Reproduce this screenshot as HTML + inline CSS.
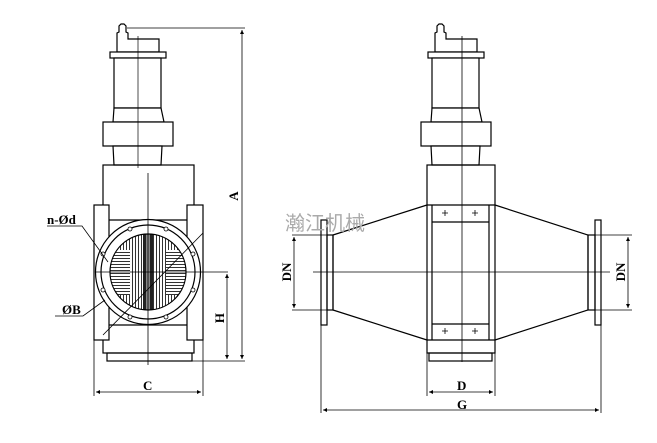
<!DOCTYPE html>
<html><head><meta charset="utf-8"><style>html,body{margin:0;padding:0;background:#fff}svg{display:block}</style></head>
<body>
<svg width="657" height="443" viewBox="0 0 657 443" xmlns="http://www.w3.org/2000/svg" font-family="Liberation Serif, serif">
<defs>
<g id="act" fill="#fff" stroke="#000" stroke-width="1.2">
  <path d="M117 52 V33 L119 32 V26 L121 24 H124 L126 26 V32 L128 33 V39 H159 V52 Z"/>
  <rect x="110" y="52" width="56" height="6"/>
  <rect x="114" y="58" width="47" height="50"/>
  <path d="M114 108 L113 122 H164 L161 108 Z"/>
  <rect x="103" y="122" width="70" height="24"/>
  <path d="M113 146 L114 165 H161 L162 146 Z"/>
</g>
<clipPath id="cc"><circle cx="148" cy="272" r="38"/></clipPath>
<pattern id="vs" width="3" height="3" patternUnits="userSpaceOnUse"><rect width="3" height="3" fill="#fff"/><rect width="1" height="3" fill="#333"/></pattern>
<pattern id="hs" width="3" height="3" patternUnits="userSpaceOnUse"><rect width="3" height="3" fill="#fff"/><rect width="3" height="1" fill="#333"/></pattern>
<marker id="ar" viewBox="0 0 10 10" refX="10" refY="5" markerWidth="7" markerHeight="5" orient="auto-start-reverse"><path d="M0 0 L10 5 L0 10 Z" fill="#000"/></marker>
</defs>

<!-- LEFT VIEW -->
<use href="#act"/>
<line x1="138" y1="36" x2="138" y2="168" stroke="#000" stroke-width="0.7"/>
<g fill="none" stroke="#000" stroke-width="1.2">
  <rect x="103" y="165" width="91" height="188"/>
  <rect x="94" y="205" width="15" height="135" fill="#fff"/>
  <rect x="187" y="205" width="16" height="135" fill="#fff"/>
  <line x1="109" y1="220" x2="187" y2="220"/>
  <line x1="109" y1="325" x2="187" y2="325"/>
  <rect x="107" y="353" width="85" height="8"/>
  <circle cx="148" cy="272" r="52.5" fill="#fff"/>
  <circle cx="148" cy="272" r="47"/>
</g>
<g clip-path="url(#cc)">
  <rect x="108" y="232" width="80" height="80" fill="url(#vs)"/>
  <rect x="108" y="250" width="22" height="45" fill="url(#hs)"/>
  <rect x="166" y="250" width="22" height="45" fill="url(#hs)"/>
  <rect x="143" y="232" width="10" height="80" fill="#222"/>
  <rect x="146" y="232" width="4" height="80" fill="#888"/>
</g>
<circle cx="148" cy="272" r="38" fill="none" stroke="#000" stroke-width="1.2"/>
<g fill="#fff" stroke="#000" stroke-width="0.8">
  <circle cx="130" cy="229" r="2"/><circle cx="166" cy="229" r="2"/>
  <circle cx="193" cy="254" r="2"/><circle cx="193" cy="290" r="2"/>
  <circle cx="166" cy="317" r="2"/><circle cx="130" cy="317" r="2"/>
  <circle cx="103" cy="290" r="2"/><circle cx="103" cy="254" r="2"/>
</g>
<g stroke="#000" stroke-width="0.8" fill="none">
  <line x1="148" y1="173" x2="148" y2="365"/>
  <line x1="95" y1="272" x2="228" y2="272"/>
  <line x1="103" y1="335" x2="203" y2="233"/>
  <polyline points="47,226 82,226 108,262"/>
  <polyline points="55,316 83,316 105,300"/>
  <line x1="127" y1="28" x2="245" y2="28"/>
  <line x1="192" y1="361" x2="245" y2="361"/>
  <line x1="242" y1="30" x2="242" y2="359" marker-start="url(#ar)" marker-end="url(#ar)"/>
  <line x1="227" y1="274" x2="227" y2="359" marker-start="url(#ar)" marker-end="url(#ar)"/>
  <line x1="94" y1="340" x2="94" y2="396"/>
  <line x1="203" y1="340" x2="203" y2="396"/>
  <line x1="96" y1="392" x2="201" y2="392" marker-start="url(#ar)" marker-end="url(#ar)"/>
</g>
<g font-weight="bold" font-size="13" fill="#000">
  <text x="47" y="224">n-Ød</text>
  <text x="62" y="314">ØB</text>
  <text x="143" y="390">C</text>
  <text transform="translate(238,196) rotate(-90)" text-anchor="middle">A</text>
  <text transform="translate(224,318) rotate(-90)" text-anchor="middle">H</text>
</g>

<!-- RIGHT VIEW -->
<use href="#act" transform="translate(318,0)"/>
<g fill="none" stroke="#000" stroke-width="1.2">
  <rect x="427" y="165" width="68" height="188"/>
  <line x1="432" y1="205" x2="432" y2="340"/>
  <line x1="489" y1="205" x2="489" y2="340"/>
  <line x1="427" y1="205" x2="495" y2="205"/>
  <line x1="427" y1="340" x2="495" y2="340"/>
  <line x1="432" y1="222" x2="489" y2="222"/>
  <line x1="432" y1="324" x2="489" y2="324"/>
  <rect x="429" y="353" width="63" height="8"/>
  <polyline points="427,205 333,235 333,310 427,340"/>
  <polyline points="495,205 588,235 588,310 495,340"/>
  <rect x="327" y="235" width="6" height="75"/>
  <rect x="321" y="220" width="6" height="105"/>
  <rect x="588" y="235" width="7" height="75"/>
  <rect x="595" y="220" width="6" height="105"/>
</g>
<g stroke="#000" stroke-width="0.8">
  <path d="M445 210v6M442 213h6M475 210v6M472 213h6M445 328v6M442 331h6M475 328v6M472 331h6"/>
</g>
<g stroke="#000" stroke-width="0.8" fill="none">
  <line x1="462" y1="36" x2="462" y2="362"/>
  <line x1="313" y1="272" x2="610" y2="272"/>
  <line x1="292" y1="235" x2="327" y2="235"/>
  <line x1="292" y1="310" x2="327" y2="310"/>
  <line x1="294" y1="237" x2="294" y2="308" marker-start="url(#ar)" marker-end="url(#ar)"/>
  <line x1="595" y1="235" x2="632" y2="235"/>
  <line x1="595" y1="310" x2="632" y2="310"/>
  <line x1="628" y1="237" x2="628" y2="308" marker-start="url(#ar)" marker-end="url(#ar)"/>
  <line x1="427" y1="353" x2="427" y2="396"/>
  <line x1="495" y1="353" x2="495" y2="396"/>
  <line x1="429" y1="392" x2="493" y2="392" marker-start="url(#ar)" marker-end="url(#ar)"/>
  <line x1="321" y1="325" x2="321" y2="413"/>
  <line x1="601" y1="325" x2="601" y2="413"/>
  <line x1="323" y1="410" x2="599" y2="410" marker-start="url(#ar)" marker-end="url(#ar)"/>
</g>
<g font-weight="bold" font-size="13" fill="#000">
  <text x="457" y="390">D</text>
  <text x="457" y="409">G</text>
  <text transform="translate(291,272) rotate(-90)" text-anchor="middle">DN</text>
  <text transform="translate(625,272) rotate(-90)" text-anchor="middle">DN</text>
</g>
<text x="285" y="230" font-family="Liberation Sans, Noto Sans CJK SC, sans-serif" font-size="20" fill="#aaa">瀚江机械</text>
</svg>
</body></html>
